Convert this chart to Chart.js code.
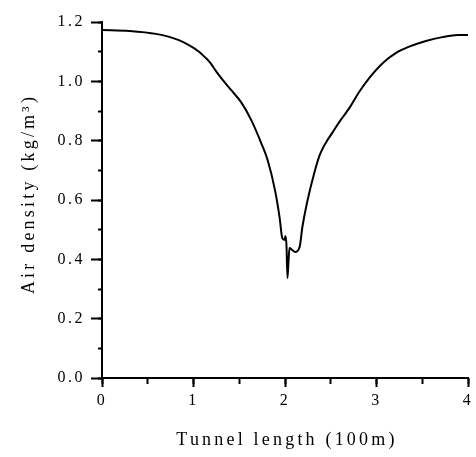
<!DOCTYPE html>
<html lang="en">
<head>
    <meta charset="UTF-8">
    <title>Air density along the tunnel</title>
    <script src="https://cdn.jsdelivr.net/npm/chart.js"></script>
    <style>
        body { margin: 0; background: #fff; }
        #wrap { width: 476px; height: 457px; }
    </style>
</head>
<body>
    <div id="wrap">
        <canvas id="densityChart" width="476" height="457"></canvas>
    </div>

    <script>
        // tunnel position (100 m) and air density (kg/m3)
        var tunnelPos = [0, 0.30, 0.59, 0.84, 0.95, 1.06, 1.13, 1.19, 1.24, 1.31, 1.41, 1.52, 1.63, 1.74, 1.81, 1.89,
            1.94, 1.97, 1.995, 2.005, 2.016, 2.027, 2.038, 2.049, 2.08, 2.11, 2.16, 2.19, 2.24, 2.32, 2.38,
            2.45, 2.52, 2.60, 2.71, 2.81, 2.92, 3.07, 3.21, 3.35, 3.54, 3.72, 3.89, 4.0];
        var airDensity = [1.173, 1.170, 1.160, 1.139, 1.122, 1.100, 1.080, 1.060, 1.037, 1.008, 0.971, 0.930, 0.870, 0.792, 0.735, 0.634,
            0.543, 0.472, 0.465, 0.479, 0.448, 0.337, 0.391, 0.438, 0.431, 0.425, 0.442, 0.509, 0.590, 0.691, 0.752,
            0.795, 0.828, 0.866, 0.913, 0.964, 1.011, 1.062, 1.095, 1.116, 1.136, 1.149, 1.156, 1.156];

        var xTitle = 'Tunnel length (100m)';
        var yTitle = 'Air density (kg/m\u00B3)';

        var serif = '"Liberation Serif", "DejaVu Serif", serif';
        var tickFont = { family: serif, size: 16 };

        var points = tunnelPos.map(function(x, i) { return { x: x, y: airDensity[i] }; });

        // spaced-out lettering like the scanned figure
        var spacing = {
            id: 'spacing',
            beforeDraw: function(chart) { chart.ctx.letterSpacing = '2.5px'; },
            beforeDatasetsDraw: function(chart) { chart.ctx.letterSpacing = '0px'; },
            afterDraw: function(chart) {
                var ctx = chart.ctx;
                ctx.save();
                ctx.fillStyle = '#000';
                ctx.font = '18px ' + serif;
                ctx.letterSpacing = '3.2px';
                ctx.textAlign = 'center';
                ctx.textBaseline = 'middle';
                ctx.fillText(xTitle, 287, 440);
                ctx.translate(29, 196);
                ctx.rotate(-Math.PI / 2);
                ctx.fillText(yTitle, 2, 0);
                ctx.restore();
            }
        };

        var ctx = document.getElementById('densityChart').getContext('2d');
        new Chart(ctx, {
            type: 'line',
            data: {
                datasets: [{
                    data: points,
                    borderColor: '#000',
                    borderWidth: 2,
                    pointRadius: 0,
                    cubicInterpolationMode: 'monotone',
                    fill: false
                }]
            },
            options: {
                responsive: false,
                animation: false,
                devicePixelRatio: 1,
                layout: { padding: { top: 22, right: 3, left: 0, bottom: 0 } },
                plugins: { legend: { display: false }, tooltip: { enabled: false } },
                scales: {
                    x: {
                        type: 'linear', position: 'bottom', min: 0, max: 4, weight: 1,
                        ticks: { stepSize: 1, font: tickFont, color: '#000', padding: 4, maxRotation: 0,
                            callback: function(v) { return v; } },
                        grid: { drawOnChartArea: false, tickLength: 9, tickWidth: 2, tickColor: '#000' },
                        border: { color: '#000', width: 2 },
                        afterFit: function(s) { s.height = 79; }
                    },
                    xMinor: {
                        type: 'linear', position: 'bottom', min: 0, max: 4, weight: 0,
                        ticks: { stepSize: 0.5, display: false, autoSkip: false },
                        grid: { drawOnChartArea: false, tickLength: 6, tickWidth: 2, tickColor: '#000' },
                        border: { display: false },
                        afterFit: function(s) { s.height = 0; }
                    },
                    y: {
                        type: 'linear', position: 'left', min: 0, max: 1.2, weight: 1,
                        ticks: { stepSize: 0.2, font: tickFont, color: '#000', padding: 6,
                            callback: function(v) { return v.toFixed(1); } },
                        grid: { drawOnChartArea: false, tickLength: 11, tickWidth: 2, tickColor: '#000' },
                        border: { color: '#000', width: 2 },
                        afterFit: function(s) { s.width = 102; }
                    },
                    yMinor: {
                        type: 'linear', position: 'left', min: 0, max: 1.2, weight: 0,
                        ticks: { stepSize: 0.1, display: false, autoSkip: false },
                        grid: { drawOnChartArea: false, tickLength: 4, tickWidth: 2, tickColor: '#000' },
                        border: { display: false },
                        afterFit: function(s) { s.width = 0; }
                    }
                }
            },
            plugins: [spacing]
        });
    </script>
</body>
</html>
